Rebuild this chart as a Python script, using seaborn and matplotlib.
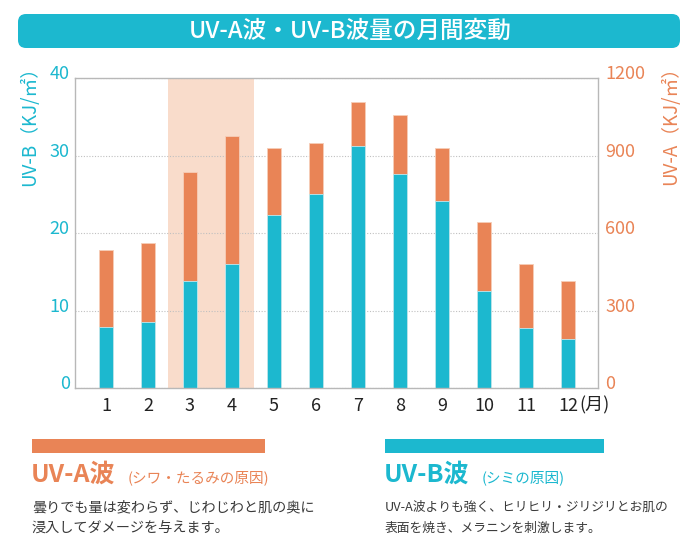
import matplotlib.pyplot as plt
import matplotlib.patches as patches
import matplotlib.transforms as mtransforms
import seaborn as sns

# 月別データ
months = [1, 2, 3, 4, 5, 6, 7, 8, 9, 10, 11, 12]
uvb = [7.9, 8.6, 13.8, 16.1, 22.3, 25.1, 31.3, 27.7, 24.2, 12.5, 7.8, 6.4]
uva = [537, 564, 837, 978, 930, 948, 1110, 1056, 930, 642, 483, 414]
uvb_ticks = [0, 10, 20, 30, 40]
uva_ticks = [0, 300, 600, 900, 1200]

TEAL = "#1cb8cf"
ORANGE = "#e98456"
BAND = "#f9dccb"
GRAY = "#b8b8b8"
TEXT = "#3a3a3a"

sns.set_style("white")
plt.rcParams['font.family'] = ['Noto Sans CJK JP', 'DejaVu Sans']

fig = plt.figure(figsize=(7, 5.51), dpi=100)
ax = fig.add_axes([0.1076, 0.2953, 0.7471, 0.5626])
ax2 = ax.twinx()

# UV-A（右軸）を後ろ、UV-B（左軸）を前に
ax.set_zorder(2)
ax2.set_zorder(1)
ax.patch.set_visible(False)

ax2.axvspan(2.47, 4.53, color=BAND, zorder=0, lw=0)
sns.barplot(x=months, y=uva, native_scale=True, color=ORANGE, saturation=1,
            width=0.34, errorbar=None, ax=ax2, edgecolor="#f6cdb8", linewidth=0.6)
sns.barplot(x=months, y=uvb, native_scale=True, color=TEAL, saturation=1,
            width=0.34, errorbar=None, ax=ax, edgecolor="#bfe9f0", linewidth=0.6)

ax.set_xlim(0.27, 12.72)
ax.set_ylim(0, 40)
ax2.set_ylim(0, 1200)
ax.set_yticks(uvb_ticks)
ax2.set_yticks(uva_ticks)
ax.set_xticks(months)
ax.set_xticklabels([str(m) for m in months])
ax.set_xlabel("")
ax.set_ylabel("")
ax2.set_ylabel("")

# 点線のグリッド
ax2.set_axisbelow(True)
ax2.grid(axis='y', linestyle=(0, (1, 1.5)), color="#c0c0c0", linewidth=0.8)
ax.grid(False)

for s in ax.spines.values():
    s.set_color(GRAY)
    s.set_linewidth(1)
for s in ax2.spines.values():
    s.set_visible(False)

ax.tick_params(axis='y', length=0, pad=4, labelsize=13, labelcolor=TEAL)
ax2.tick_params(axis='y', length=0, pad=5, labelsize=13, labelcolor=ORANGE)
ax.tick_params(axis='x', length=0, pad=6, labelsize=13, labelcolor="#222222")

# 目盛ラベルを少し上へ
up = mtransforms.ScaledTranslation(0, 0.06, fig.dpi_scale_trans)
for lbl in ax.get_yticklabels() + ax2.get_yticklabels():
    lbl.set_transform(lbl.get_transform() + up)

ax.text(12.27, -0.054, "(月)", transform=ax.get_xaxis_transform(),
        ha='left', va='center', fontsize=13, color="#222222")

fig.text(30 / 700, 1 - 57 / 551, "UV-B（KJ/㎡）", rotation=90, ha='center', va='top',
         fontsize=13.5, color=TEAL)
fig.text(671 / 700, 1 - 57 / 551, "UV-A（KJ/㎡）", rotation=90, ha='center', va='top',
         fontsize=13.5, color=ORANGE)

# タイトルバー
title_box = patches.FancyBboxPatch((0.18, 5.03), 6.62, 0.34,
                                   boxstyle="round,pad=0,rounding_size=0.08",
                                   transform=fig.dpi_scale_trans, facecolor=TEAL,
                                   edgecolor='none')
fig.add_artist(title_box)
fig.text(0.5, 1 - 31 / 551, "UV-A波・UV-B波量の月間変動", ha='center', va='center',
         fontsize=17, color='white', fontweight='medium')

# 下部の説明
fig.add_artist(patches.Rectangle((0.32, 0.98), 2.33, 0.14, transform=fig.dpi_scale_trans,
                                 facecolor=ORANGE, edgecolor='none'))
fig.add_artist(patches.Rectangle((3.85, 0.98), 2.19, 0.14, transform=fig.dpi_scale_trans,
                                 facecolor=TEAL, edgecolor='none'))

base = 1 - 482 / 551
fig.text(31 / 700, base, "UV-A波", fontsize=18, color=ORANGE, va='baseline', fontweight='bold')
fig.text(128 / 700, base, "(シワ・たるみの原因)", fontsize=10.5, color=ORANGE, va='baseline')
fig.text(384 / 700, base, "UV-B波", fontsize=18, color=TEAL, va='baseline', fontweight='bold')
fig.text(482 / 700, base, "(シミの原因)", fontsize=10.5, color=TEAL, va='baseline')

fig.text(32 / 700, 1 - 507 / 551, "曇りでも量は変わらず、じわじわと肌の奥に",
         fontsize=10.2, color=TEXT, va='center')
fig.text(32 / 700, 1 - 528 / 551, "浸入してダメージを与えます。",
         fontsize=10.2, color=TEXT, va='center')
fig.text(385 / 700, 1 - 507 / 551, "UV-A波よりも強く、ヒリヒリ・ジリジリとお肌の",
         fontsize=9.2, color=TEXT, va='center')
fig.text(385 / 700, 1 - 528 / 551, "表面を焼き、メラニンを刺激します。",
         fontsize=9.2, color=TEXT, va='center')

fig.savefig("out.png", dpi=100)
